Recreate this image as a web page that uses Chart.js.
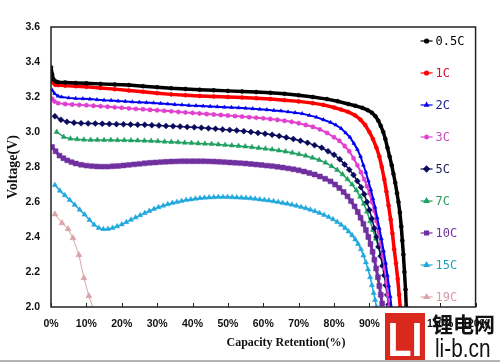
<!DOCTYPE html>
<html>
<head>
<meta charset="utf-8">
<script src="https://cdn.jsdelivr.net/npm/chart.js@4.4.0/dist/chart.umd.min.js"></script>
<style>
  html, body { margin: 0; padding: 0; background: #fff; }
  canvas { display: block; }
</style>
</head>
<body>
<canvas id="chart" width="500" height="362"></canvas>
<script>
// discharge curves, [capacity retention %, voltage V]
const rates = ["0.5C", "1C", "2C", "3C", "5C", "7C", "10C", "15C", "19C"];

const pts05C = [[0,3.37],[0.3,3.33],[0.7,3.30],[1.2,3.29],[2,3.285],[4,3.283],[7,3.28],[10,3.278],[14,3.275],[18,3.272],
  [22,3.268],[26,3.262],[30,3.256],[34,3.25],[38,3.246],[42,3.242],[46,3.238],[50,3.235],[54,3.232],[58,3.228],
  [62,3.224],[66,3.218],[70,3.21],[74,3.2],[78,3.188],[81,3.176],[84,3.16],[86,3.15],[88,3.138],[89.5,3.125],
  [90.7,3.11],[91.7,3.09],[92.5,3.065],[93.2,3.035],[93.9,3.0],[94.5,2.96],[95.1,2.91],[95.7,2.86],[96.3,2.81],[96.8,2.76],
  [97.3,2.71],[97.8,2.65],[98.2,2.6],[98.6,2.54],[99.0,2.46],[99.3,2.38],[99.6,2.3],[99.9,2.2],[100.2,2.1],[100.4,2.0]];

const pts1C = [[0,3.35],[0.3,3.31],[0.7,3.28],[1.2,3.27],[2,3.268],[4,3.265],[7,3.262],[10,3.258],[14,3.252],[18,3.245],
  [22,3.237],[26,3.23],[30,3.222],[34,3.215],[38,3.21],[42,3.206],[46,3.203],[50,3.2],[54,3.197],[58,3.193],
  [62,3.188],[66,3.182],[70,3.175],[74,3.165],[77,3.155],[80,3.14],[82,3.128],[84,3.115],[86,3.095],[87.5,3.07],
  [88.8,3.04],[90,3.0],[91,2.96],[92,2.91],[92.8,2.86],[93.5,2.8],[94.2,2.73],[94.8,2.66],[95.4,2.58],[96,2.5],
  [96.5,2.42],[97,2.33],[97.5,2.25],[98,2.16],[98.4,2.07],[98.7,2.0]];

const pts2C = [[0.3,3.24],[1,3.22],[2,3.205],[3,3.2],[5,3.195],[7,3.192],[9,3.19],[11,3.188],[13,3.185],[15,3.182],
  [17,3.18],[19,3.177],[21,3.175],[23,3.172],[25,3.17],[27,3.168],[29,3.166],[31,3.163],[33,3.16],[35,3.157],
  [37,3.155],[39,3.152],[41,3.15],[43,3.148],[45,3.146],[47,3.144],[49,3.142],[51,3.14],[53,3.138],[55,3.136],
  [57,3.133],[59,3.13],[61,3.127],[63,3.123],[65,3.12],[67,3.115],[69,3.11],[71,3.105],[73,3.095],[75,3.085],
  [77,3.07],[79,3.055],[80.5,3.04],[82,3.02],[83.3,2.995],[84.5,2.97],[85.6,2.935],[86.6,2.9],[87.5,2.86],[88.3,2.81],
  [89,2.77],[89.7,2.72],[90.4,2.67],[91,2.62],[91.6,2.57],[92.2,2.51],[92.8,2.45],[93.4,2.39],[94,2.32],[94.6,2.25],
  [95.1,2.18],[95.5,2.12],[95.9,2.06],[96.2,2.0]];

const pts3C = [[0.3,3.19],[1,3.175],[2,3.165],[4,3.16],[6,3.157],[8,3.155],[10,3.153],[12,3.15],[14,3.147],[16,3.144],
  [18,3.141],[20,3.138],[22,3.135],[24,3.132],[26,3.13],[28,3.127],[30,3.124],[32,3.121],[34,3.118],[36,3.115],
  [38,3.112],[40,3.109],[42,3.106],[44,3.103],[46,3.1],[48,3.097],[50,3.094],[52,3.091],[54,3.088],[56,3.085],
  [58,3.082],[60,3.078],[62,3.074],[64,3.07],[66,3.064],[68,3.058],[70,3.05],[72,3.04],[74,3.03],[76,3.015],
  [78,2.995],[80,2.97],[81.5,2.95],[83,2.92],[84.3,2.89],[85.5,2.85],[86.6,2.81],[87.6,2.77],[88.5,2.73],[89.3,2.69],
  [90,2.65],[90.7,2.6],[91.4,2.55],[92,2.49],[92.6,2.43],[93.2,2.36],[93.8,2.29],[94.3,2.22],[94.8,2.14],[95.2,2.07],
  [95.5,2.0]];

const pts5C = [[1.1,3.09],[2.8,3.07],[4.5,3.058],[6.5,3.053],[8.5,3.05],[10.5,3.049],[12.5,3.048],[14.5,3.047],[16.5,3.046],[18.5,3.045],
  [20.5,3.044],[22.5,3.043],[24.5,3.042],[26.5,3.041],[28.5,3.039],[30.5,3.037],[32.5,3.035],[34.5,3.033],[36.5,3.031],[38.5,3.029],
  [40.5,3.027],[42.5,3.024],[44.5,3.021],[46.5,3.018],[48.5,3.015],[50.5,3.012],[52.5,3.009],[54.5,3.005],[56.5,3.0],[58.5,2.995],
  [60.5,2.99],[62.5,2.984],[64.5,2.977],[66.5,2.969],[68.5,2.96],[70.5,2.95],[72.5,2.938],[74.5,2.925],[76.5,2.91],[78.3,2.89],
  [80,2.87],[81.6,2.845],[83,2.815],[84.3,2.785],[85.5,2.755],[86.6,2.72],[87.6,2.685],[88.5,2.645],[89.3,2.6],[90,2.555],
  [90.7,2.505],[91.4,2.45],[92,2.4],[92.6,2.345],[93.2,2.29],[93.7,2.235],[94.2,2.18],[94.6,2.125],[95,2.07],[95.4,2.015]];

const pts7C = [[1.6,3.0],[3.6,2.972],[5.5,2.962],[7.4,2.958],[9.3,2.956],[11.2,2.955],[13.1,2.955],[15,2.954],[16.9,2.954],[18.8,2.953],
  [20.7,2.953],[22.6,2.952],[24.5,2.951],[26.4,2.95],[28.3,2.949],[30.2,2.947],[32.1,2.945],[34,2.943],[35.9,2.941],[37.8,2.939],
  [39.7,2.937],[41.6,2.935],[43.5,2.933],[45.4,2.931],[47.3,2.929],[49.2,2.926],[51.1,2.923],[53,2.92],[54.9,2.917],[56.8,2.913],
  [58.7,2.909],[60.6,2.905],[62.5,2.9],[64.4,2.894],[66.3,2.888],[68.2,2.881],[70.1,2.873],[72,2.864],[73.9,2.853],[75.8,2.84],
  [77.6,2.825],[79.3,2.805],[80.9,2.783],[82.4,2.758],[83.8,2.73],[85.1,2.7],[86.3,2.667],[87.4,2.63],[88.4,2.59],[89.3,2.545],
  [90.2,2.49],[91,2.44],[91.8,2.39],[92.5,2.345],[93.2,2.3],[93.8,2.245],[94.3,2.19],[94.8,2.13],[95.2,2.07],[95.5,2.01]];

const pts10C = [[0.3,2.915],[1.3,2.89],[2.4,2.865],[3.5,2.85],[4.6,2.838],[5.8,2.828],[7,2.82],[8.5,2.813],[10,2.808],[11.5,2.805],
  [13,2.803],[14.5,2.802],[16,2.802],[17.5,2.804],[19,2.806],[20.5,2.809],[22,2.812],[23.5,2.815],[25,2.818],[26.5,2.821],
  [28,2.824],[29.5,2.826],[31,2.828],[32.5,2.83],[34,2.831],[35.5,2.832],[37,2.833],[38.5,2.833],[40,2.833],[41.5,2.833],
  [43,2.833],[44.5,2.832],[46,2.831],[47.5,2.83],[49,2.828],[50.5,2.826],[52,2.824],[53.5,2.822],[55,2.82],[56.5,2.817],
  [58,2.814],[59.5,2.811],[61,2.808],[62.5,2.805],[64,2.801],[65.5,2.797],[67,2.792],[68.5,2.787],[70,2.781],[71.5,2.774],
  [73,2.766],[74.5,2.757],[76,2.746],[77.5,2.733],[79,2.718],[80.3,2.7],[81.5,2.68],[82.7,2.657],[83.8,2.632],[84.8,2.605],
  [85.8,2.575],[86.7,2.543],[87.5,2.51],[88.3,2.475],[89,2.44],[89.7,2.4],[90.3,2.36],[90.9,2.315],[91.4,2.27],[91.9,2.22],
  [92.4,2.17],[92.8,2.12],[93.2,2.07],[93.6,2.02]];

const pts15C = [[1.1,2.697],[2.5,2.665],[3.9,2.638],[5.3,2.611],[6.7,2.584],[8.1,2.556],[9.5,2.528],[10.9,2.497],[12.2,2.47],[13.5,2.452],
  [14.8,2.445],[16.1,2.446],[17.4,2.452],[18.7,2.461],[20,2.472],[21.3,2.485],[22.6,2.498],[23.9,2.511],[25.2,2.524],[26.5,2.537],
  [27.8,2.549],[29.1,2.56],[30.4,2.57],[31.7,2.579],[33,2.587],[34.3,2.594],[35.6,2.6],[36.9,2.606],[38.2,2.611],[39.5,2.615],
  [40.8,2.619],[42.1,2.622],[43.4,2.624],[44.7,2.626],[46,2.627],[47.3,2.628],[48.6,2.628],[49.9,2.628],[51.2,2.627],[52.5,2.626],
  [53.8,2.625],[55.1,2.623],[56.4,2.621],[57.7,2.618],[59,2.615],[60.3,2.612],[61.6,2.608],[62.9,2.604],[64.2,2.6],[65.5,2.595],
  [66.8,2.59],[68.1,2.584],[69.4,2.578],[70.7,2.571],[72,2.564],[73.3,2.556],[74.6,2.547],[75.9,2.537],[77.2,2.526],[78.5,2.514],
  [79.7,2.501],[80.9,2.486],[82,2.47],[83.1,2.452],[84.1,2.432],[85.1,2.41],[86,2.386],[86.8,2.36],[87.6,2.33],[88.3,2.295],
  [89,2.255],[89.6,2.215],[90.2,2.17],[90.7,2.125],[91.2,2.08],[91.6,2.04],[92,2.0]];

const pts19C = [[1.1,2.53],[3.1,2.48],[4.8,2.446],[6.2,2.394],[7.9,2.297],[9.3,2.166],[10.7,2.063],[12.6,1.955]];

const seriesPoints = [pts05C, pts1C, pts2C, pts3C, pts5C, pts7C, pts10C, pts15C, pts19C];
const xTicks = [0, 10, 20, 30, 40, 50, 60, 70, 80, 90, 100, 110, 120];
const yTicks = [2.0, 2.2, 2.4, 2.6, 2.8, 3.0, 3.2, 3.4, 3.6];

// look of each series (Excel style markers)
const colors     = ["#000000", "#ff0000", "#0000ee", "#e040d0", "#0a0a5c", "#20a060", "#7030a0", "#20a8dc", "#d9a3a8"];
const textColors = ["#000000", "#c8102e", "#1a1a8c", "#c64cc0", "#1c1c5c", "#2a9a5a", "#7030a0", "#1f9fc0", "#d89aa2"];
const markers    = ["circle", "circle", "triangle", "star", "rectRot", "triangle", "rect", "triangle", "triangle"];
const radii      = [2, 2, 2.2, 2.5, 3, 3, 3.5, 3, 3.5];
const lineWidths = [3.5, 3.5, 2, 2, 1.5, 1.5, 3, 1.5, 1];

const datasets = rates.map((r, i) => ({
  label: r,
  data: seriesPoints[i].map(p => ({ x: p[0], y: p[1] })),
  showLine: true,
  borderColor: colors[i],
  backgroundColor: colors[i],
  borderWidth: lineWidths[i],
  pointStyle: markers[i],
  pointRadius: radii[i],
  pointBorderWidth: markers[i] === "star" ? 1.2 : 0.5,
  pointBackgroundColor: colors[i],
  pointBorderColor: colors[i],
  tension: 0
}));

const extras = {
  id: "extras",
  afterDraw(chart) {
    const ctx = chart.ctx;
    const a = chart.chartArea;
    const xs = chart.scales.x;
    ctx.save();

    // frame round the plot
    ctx.strokeStyle = "#222";
    ctx.lineWidth = 1.5;
    ctx.strokeRect(a.left, a.top, a.right - a.left, a.bottom - a.top);

    // x tick marks point inwards
    ctx.lineWidth = 1;
    ctx.beginPath();
    xTicks.forEach(v => {
      const px = Math.round(xs.getPixelForValue(v)) + 0.5;
      ctx.moveTo(px, a.bottom);
      ctx.lineTo(px, a.bottom - 4);
    });
    ctx.stroke();

    // x axis title (sits a bit right of centre in the original)
    ctx.fillStyle = "#111";
    ctx.font = 'bold 12px "Liberation Serif"';
    ctx.textAlign = "center";
    ctx.textBaseline = "middle";
    ctx.fillText("Capacity Retention(%)", 286, 343);

    // legend inside the plot, right side
    const lx = a.right - 49;
    chart.data.datasets.forEach((ds, i) => {
      const ly = a.top + 14 + i * 32;
      ctx.strokeStyle = ds.borderColor;
      ctx.lineWidth = 1.2;
      ctx.beginPath();
      ctx.moveTo(lx - 6, ly);
      ctx.lineTo(lx + 6, ly);
      ctx.stroke();
      ctx.fillStyle = ds.borderColor;
      ctx.strokeStyle = ds.borderColor;
      Chart.helpers.drawPoint(ctx, {
        pointStyle: ds.pointStyle,
        radius: Math.min(ds.pointRadius, 2.8),
        rotation: 0,
        borderWidth: ds.pointStyle === "star" ? 1 : 0.5
      }, lx, ly);
      ctx.fillStyle = textColors[i];
      ctx.font = '12px "DejaVu Sans Mono"';
      ctx.textAlign = "left";
      ctx.fillText(ds.label, lx + 9, ly + 0.5);
    });

    // site watermark at the bottom right
    ctx.fillStyle = "#d9281c";
    ctx.fillRect(385, 313, 40, 49);
    ctx.fillStyle = "#fff";
    ctx.save();
    ctx.translate(405, 356);
    ctx.scale(0.82, 1);
    ctx.font = 'bold 48px "Liberation Sans"';
    ctx.textAlign = "center";
    ctx.textBaseline = "alphabetic";
    ctx.fillText("LI", 0, 0);
    ctx.restore();

    ctx.fillStyle = "#111";
    ctx.font = 'bold 21px "Noto Sans CJK SC"';
    ctx.textAlign = "left";
    ctx.textBaseline = "middle";
    ctx.fillText("锂电网", 432, 324);
    ctx.save();
    ctx.translate(435, 357);
    ctx.scale(0.8, 1);
    ctx.font = '26px "Liberation Sans"';
    ctx.textBaseline = "alphabetic";
    ctx.fillText("li-b.cn", 0, 0);
    ctx.restore();

    // grey edge at the very bottom of the picture
    ctx.fillStyle = "#b4b4b4";
    ctx.fillRect(0, 360, 500, 2);
    ctx.restore();
  }
};

new Chart(document.getElementById("chart"), {
  type: "scatter",
  data: { datasets },
  options: {
    responsive: false,
    animation: false,
    layout: { padding: { top: 27, right: 21, left: 0, bottom: 0 } },
    plugins: { legend: { display: false }, tooltip: { enabled: false } },
    scales: {
      x: {
        type: "linear",
        min: 0,
        max: 120,
        afterFit: s => { s.height = 55; },
        afterBuildTicks: s => { s.ticks = xTicks.map(v => ({ value: v })); },
        grid: { display: false, drawTicks: false },
        border: { display: false },
        ticks: {
          autoSkip: false,
          maxRotation: 0,
          padding: 11,
          color: "#111",
          font: { family: "Liberation Sans", weight: "bold", size: 10.5 },
          callback: v => v + "%"
        }
      },
      y: {
        min: 2.0,
        max: 3.6,
        afterFit: s => { s.width = 51; },
        afterBuildTicks: s => { s.ticks = yTicks.map(v => ({ value: v })); },
        grid: { display: false, drawTicks: false },
        border: { display: false },
        ticks: {
          padding: 11,
          color: "#111",
          font: { family: "Liberation Sans", weight: "bold", size: 10.5 },
          callback: v => v.toFixed(1)
        },
        title: {
          display: true,
          text: "Voltage(V)",
          color: "#111",
          padding: { top: 5, bottom: 0 },
          font: { family: "Liberation Serif", weight: "bold", size: 14 }
        }
      }
    }
  },
  plugins: [extras]
});
</script>
</body>
</html>
